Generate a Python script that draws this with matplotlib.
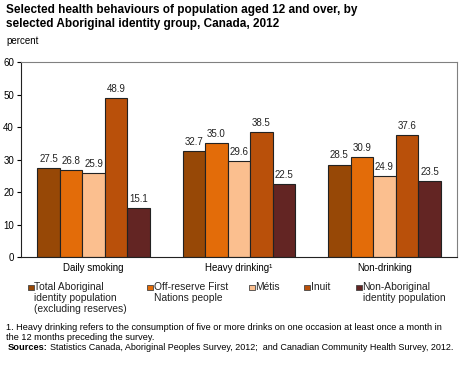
import matplotlib
matplotlib.use("Agg")
import matplotlib.pyplot as plt
from matplotlib.patches import Rectangle
import numpy as np

plt.rcParams['font.family'] = ['Liberation Sans', 'DejaVu Sans']

categories = ["Daily smoking", "Heavy drinking\u00b9", "Non-drinking"]
series_names = ["Total Aboriginal\nidentity population\n(excluding reserves)",
                "Off-reserve First\nNations people",
                "M\u00e9tis", "Inuit",
                "Non-Aboriginal\nidentity population"]
total_aboriginal = [27.5, 32.7, 28.5]
off_reserve = [26.8, 35.0, 30.9]
metis = [25.9, 29.6, 24.9]
inuit = [48.9, 38.5, 37.6]
non_aboriginal = [15.1, 22.5, 23.5]
series = [total_aboriginal, off_reserve, metis, inuit, non_aboriginal]
colors = ["#974806", "#E36C09", "#FBBF8F", "#B9500A", "#632523"]
yticks = [0, 10, 20, 30, 40, 50, 60]

W, H = 465, 370
fig = plt.figure(figsize=(4.65, 3.7), dpi=100)
ax = fig.add_axes([0.045, 0.305, 0.938, 0.527])

x = np.arange(len(categories))
w = 0.155
for i, (vals, c, name) in enumerate(zip(series, colors, series_names)):
    pos = x + (i - 2) * w
    bars = ax.bar(pos, vals, width=w, color=c, edgecolor="#222222", linewidth=0.8, label=name)
    for b, v in zip(bars, vals):
        ax.text(b.get_x() + b.get_width() / 2, v + 1.3, f"{v:.1f}", ha="center", va="bottom",
                fontsize=7, color="#222222")

ax.set_xlim(-0.5, 2.5)
ax.set_ylim(0, 60)
ax.set_yticks(yticks)
ax.set_yticklabels([str(t) for t in yticks], fontsize=7)
ax.set_xticks(x)
ax.set_xticklabels(categories, fontsize=7)
ax.tick_params(axis='x', length=0, pad=4)
ax.tick_params(axis='y', length=3, pad=2, width=0.8)
for s in ['top', 'right']:
    ax.spines[s].set_color("#808080")
    ax.spines[s].set_linewidth(0.8)
ax.spines['left'].set_color("#222222")
ax.spines['bottom'].set_color("#222222")

fig.text(6 / W, 1 - 4.5 / H, "Selected health behaviours of population aged 12 and over, by\nselected Aboriginal identity group, Canada, 2012",
         fontsize=8.5, fontweight='bold', va='top', ha='left', linespacing=1.12)
fig.text(6 / W, 1 - 41 / H, "percent", fontsize=7, va='center', ha='left')

# legend (manual layout to match multi-line labels with marker on first line)
leg_sq_x = [28, 147, 249, 304, 356]
for sx, c, name in zip(leg_sq_x, colors, series_names):
    fig.patches.append(Rectangle((sx / W, 1 - 290 / H), 5.5 / W, 5.5 / H, transform=fig.transFigure,
                                 facecolor=c, edgecolor="#444444", linewidth=0.6))
    fig.text((sx + 6.5) / W, 1 - 281.5 / H, name, fontsize=7.4, va='top', ha='left',
             linespacing=1.18, color="#222222")

fig.text(6 / W, 1 - 332.5 / H, "1. Heavy drinking refers to the consumption of five or more drinks on one occasion at least once a month in\nthe 12 months preceding the survey.",
         fontsize=6.6, va='center', ha='left', linespacing=1.25)
fig.text(8 / W, 1 - 348 / H, "Sources:", fontsize=6.7, fontweight='bold', va='center', ha='left')
fig.text(50 / W, 1 - 348 / H, "Statistics Canada, Aboriginal Peoples Survey, 2012;  and Canadian Community Health Survey, 2012.",
         fontsize=6.5, va='center', ha='left')

fig.savefig("out.png", dpi=100)
